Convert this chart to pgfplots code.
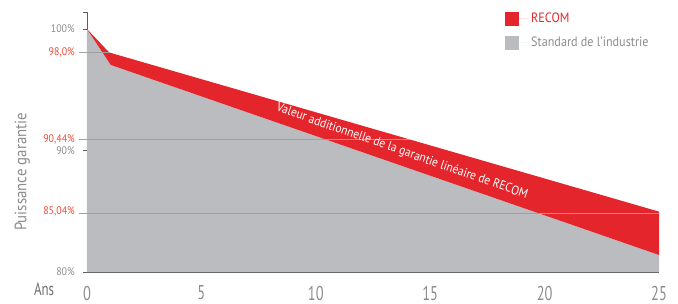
\documentclass[border=0pt]{standalone}
\usepackage{fontspec}
\setmainfont{PT Sans}[FakeStretch=0.9]
\newfontfamily\condfont{PT Sans}[FakeStretch=0.72]
\usepackage{pgfplots}
\pgfplotsset{compat=1.18}
\definecolor{recred}{HTML}{E4252B}
\definecolor{labred}{HTML}{EF4B35}
\definecolor{indgray}{HTML}{BBBCBF}
\definecolor{txtgray}{HTML}{8C8C8C}
\definecolor{darktxt}{HTML}{707070}
\definecolor{axgray}{HTML}{5E5E5E}
\definecolor{gridgray}{HTML}{A0A0A0}
\begin{document}
\begin{tikzpicture}[x=1pt,y=1pt]
\path[use as bounding box] (-87,-31) rectangle (591,272);
\begin{axis}[
  at={(0,0)}, anchor=south west,
  scale only axis, width=572pt, height=260pt,
  xmin=0, xmax=25, ymin=80, ymax=101.4,
  clip=false,
  axis x line*=bottom, axis y line*=left,
  axis line style={axgray, line width=0.9pt, -},
  /pgf/number format/assume math mode=true,
  xtick={0,5,10,15,20,25},
  x tick style={draw=none},
  xticklabel style={font=\condfont\fontsize{20}{20}\selectfont, text=txtgray, anchor=center, inner sep=0pt, yshift=-17pt},
  ytick={80,90,100,101.4},
  yticklabels={80\%,90\%,100\%,},
  y tick style={axgray, line width=0.9pt},
  tick align=outside,
  major tick length=4pt,
  yticklabel style={font=\fontsize{11}{11}\selectfont, text=txtgray, anchor=east, inner sep=0pt, xshift=-8pt},
  extra y ticks={98.07,90.92,84.96},
  extra y tick labels={98{,}0\%,90{,}44\%,85{,}04\%},
  extra y tick style={major tick length=0pt, yticklabel style={text=labred, xshift=-4pt}},
  xlabel={Ans},
  xlabel style={at={(axis description cs:-0.075,0)}, anchor=center, inner sep=0pt, yshift=-17pt, font=\condfont\fontsize{18}{18}\selectfont, text=darktxt},
  ylabel={Puissance garantie},
  ylabel style={at={(axis description cs:-0.113,0.385)}, anchor=center, font=\fontsize{16.5}{16.5}\selectfont, text=txtgray},
  legend style={at={(rel axis cs:0.7308,1.004)}, anchor=north west, draw=none, fill=none,
    font=\fontsize{13.5}{14}\selectfont, row sep=9pt, inner sep=0pt},
  legend cell align=left,
  legend image code/.code={\fill[#1] (0pt,-7pt) rectangle (14pt,7pt); \path (14pt,0pt) -- (24pt,0pt);},
]
\addlegendimage{fill=recred, draw=none}
\addlegendentry[text=recred]{RECOM}
\addlegendimage{fill=indgray, draw=none}
\addlegendentry[text=txtgray]{Standard de l’industrie}
% industry standard (grey area)
\addplot[fill=indgray, draw=none, forget plot] coordinates {(0,80) (0,100) (1.04,97.04) (25,81.4) (25,80)} -- cycle;
% RECOM additional value (red band)
\addplot[fill=recred, draw=none, forget plot] coordinates {(0,100) (0.97,98.07) (25,84.97) (25,81.4) (1.04,97.04)} -- cycle;
% guide lines
\addplot[gridgray, line width=0.8pt, forget plot] coordinates {(-0.35,98.07) (0.97,98.07)};
\addplot[gridgray, line width=0.8pt, forget plot] coordinates {(-0.35,90.92) (14.1,90.92)};
\addplot[gridgray, line width=0.8pt, forget plot] coordinates {(-0.35,84.86) (25,84.86)};
\node[text=white, rotate=-19.3, font=\fontsize{12.8}{14}\selectfont] at (axis cs:13.77,89.9) {Valeur additionnelle de la garantie linéaire de RECOM};
\end{axis}
\end{tikzpicture}
\end{document}
